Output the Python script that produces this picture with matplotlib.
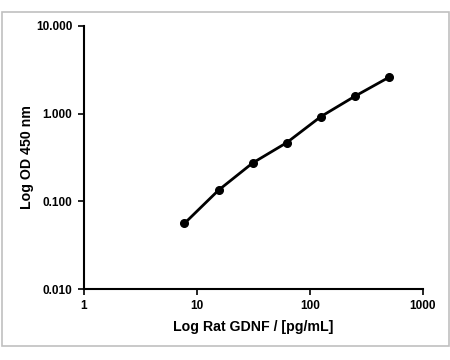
import matplotlib
matplotlib.use("Agg")
import matplotlib.pyplot as plt
from matplotlib.patches import Rectangle
from matplotlib.ticker import FixedLocator, FixedFormatter, NullLocator

conc = [7.8, 15.6, 31.25, 62.5, 125, 250, 500]
od = [0.056, 0.134, 0.274, 0.467, 0.925, 1.58, 2.60]
xticks = [1, 10, 100, 1000]
xticklabels = ["1", "10", "100", "1000"]
yticks = [0.01, 0.1, 1, 10]
yticklabels = ["0.010", "0.100", "1.000", "10.000"]

plt.rcParams['font.family'] = ['Liberation Sans', 'DejaVu Sans']
W, H = 450, 360
fig = plt.figure(figsize=(W/100, H/100), dpi=100)
fig.patches.append(Rectangle((2/W, 1 - 346/H), 447/W, 334/H, transform=fig.transFigure,
                             fill=False, edgecolor='#c0c0c0', linewidth=1.2))
ax = fig.add_axes([83.5/W, 1 - 289/H, (423-83.5)/W, (289-26)/H])
ax.plot(conc, od, color='black', linewidth=2, marker='o', markersize=5.5)
ax.set_xscale('log')
ax.set_yscale('log')
ax.set_xlim(1, 1000)
ax.set_ylim(0.01, 10)
ax.xaxis.set_major_locator(FixedLocator(xticks))
ax.xaxis.set_major_formatter(FixedFormatter(xticklabels))
ax.yaxis.set_major_locator(FixedLocator(yticks))
ax.yaxis.set_major_formatter(FixedFormatter(yticklabels))
ax.xaxis.set_minor_locator(NullLocator())
ax.yaxis.set_minor_locator(NullLocator())
for s in ['top', 'right']:
    ax.spines[s].set_visible(False)
for s in ['left', 'bottom']:
    ax.spines[s].set_linewidth(1.5)
ax.tick_params(axis='both', direction='out', length=4, width=1.2, labelsize=8.5, pad=4)
for lab in ax.get_xticklabels() + ax.get_yticklabels():
    lab.set_fontweight('bold')
ax.set_xlabel('Log Rat GDNF / [pg/mL]', fontsize=10.2, fontweight='bold', labelpad=6)
ax.set_ylabel('Log OD 450 nm', fontsize=10.2, fontweight='bold', labelpad=1.5)
fig.savefig('out.png', dpi=100)
